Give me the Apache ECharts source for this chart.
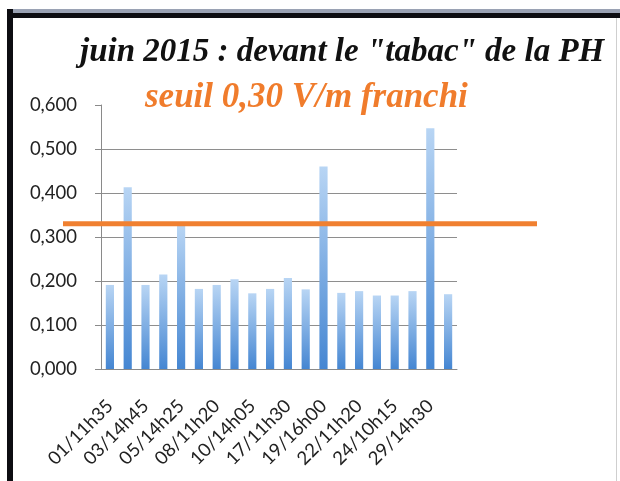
<!DOCTYPE html>
<html>
<head>
<meta charset="utf-8">
<script src="https://cdn.jsdelivr.net/npm/echarts@6/dist/echarts.min.js"></script>
<style>
  html, body { margin: 0; padding: 0; background: #fff; }
  #chart { width: 620px; height: 481px; }
</style>
</head>
<body>
<div id="chart"></div>
<script>
// relevés juin 2015 (V/m)
const categories = [
  '01/11h35', '02/14h10', '03/14h45', '04/11h20', '05/14h25',
  '06/11h15', '08/11h20', '09/14h10', '10/14h05', '15/11h25',
  '17/11h30', '18/14h20', '19/16h00', '20/11h10', '22/11h20',
  '23/14h15', '24/10h15', '26/11h20', '29/14h30', '30/11h05'
];
const values = [
  0.191, 0.413, 0.191, 0.215, 0.326, 0.182, 0.191, 0.204, 0.172, 0.182,
  0.207, 0.181, 0.460, 0.173, 0.177, 0.167, 0.167, 0.177, 0.547, 0.170
];
const seuil = 0.33;
const yTicks = [0, 0.1, 0.2, 0.3, 0.4, 0.5, 0.6];

const chart = echarts.init(document.getElementById('chart'));

const labelFont = 'Lato, "Open Sans", sans-serif';
const gridGrey = '#8e8e8e';

const option = {
  animation: false,
  title: [{
    text: 'juin 2015 : devant le "tabac" de la PH',
    left: 80,
    top: 36,
    padding: 0,
    textStyle: {
      fontFamily: '"Liberation Serif", serif',
      fontStyle: 'italic',
      fontWeight: 'bold',
      fontSize: 33,
      color: '#111'
    }
  }, {
    text: 'seuil 0,30 V/m franchi',
    left: 145,
    top: 80,
    padding: 0,
    textStyle: {
      fontFamily: '"Liberation Serif", serif',
      fontStyle: 'italic',
      fontWeight: 'bold',
      fontSize: 35,
      color: '#f07c2c'
    }
  }],
  grid: [
    { left: 101, right: 163, top: 105, bottom: 112 },
    { left: 63, right: 83, top: 105, bottom: 112 }
  ],
  xAxis: [{
    type: 'category',
    gridIndex: 0,
    data: categories,
    axisLine: { lineStyle: { color: '#8a8a8a' } },
    axisTick: { interval: 0, length: 5, lineStyle: { color: '#8a8a8a' } },
    axisLabel: {
      interval: 1,
      rotate: 45,
      margin: 34,
      fontFamily: labelFont,
      fontSize: 18.5,
      color: '#222'
    }
  }, {
    type: 'category',
    gridIndex: 1,
    data: ['a', 'b'],
    boundaryGap: false,
    show: false
  }],
  yAxis: [{
    type: 'value',
    gridIndex: 0,
    min: yTicks[0],
    max: yTicks[yTicks.length - 1],
    interval: 0.1,
    axisLine: { show: true, lineStyle: { color: '#8a8a8a' } },
    axisTick: { show: true, length: 6, lineStyle: { color: '#8a8a8a' } },
    splitLine: {
      // la ligne 0,600 est cachée derrière le sous-titre
      lineStyle: {
        color: [gridGrey, gridGrey, gridGrey, gridGrey, gridGrey, gridGrey, 'rgba(0,0,0,0)'],
        width: 1
      }
    },
    axisLabel: {
      margin: 24,
      fontFamily: labelFont,
      fontSize: 18.5,
      color: '#222',
      formatter: v => v.toFixed(3).replace('.', ',')
    }
  }, {
    type: 'value',
    gridIndex: 1,
    min: yTicks[0],
    max: yTicks[yTicks.length - 1],
    show: false
  }],
  series: [{
    type: 'bar',
    xAxisIndex: 0,
    yAxisIndex: 0,
    data: values,
    barWidth: '46%',
    itemStyle: {
      color: new echarts.graphic.LinearGradient(0, 0, 0, 1, [
        { offset: 0, color: '#b8d5f4' },
        { offset: 1, color: '#4586d2' }
      ])
    }
  }, {
    type: 'line',
    xAxisIndex: 1,
    yAxisIndex: 1,
    data: [seuil, seuil],
    symbol: 'none',
    z: 5,
    lineStyle: { color: '#f08030', width: 5 }
  }],
  graphic: [
    { type: 'rect', shape: { x: 7, y: 9, width: 613, height: 4 }, style: { fill: '#9aa2b4' } },
    { type: 'rect', shape: { x: 7, y: 13, width: 613, height: 5 }, style: { fill: '#0d0d12' } },
    { type: 'rect', shape: { x: 7, y: 9, width: 6, height: 472 }, style: { fill: '#0d0d12' } },
    { type: 'rect', shape: { x: 616, y: 18, width: 1, height: 463 }, style: { fill: '#cfcfcf' } }
  ]
};

chart.setOption(option);
</script>
</body>
</html>
